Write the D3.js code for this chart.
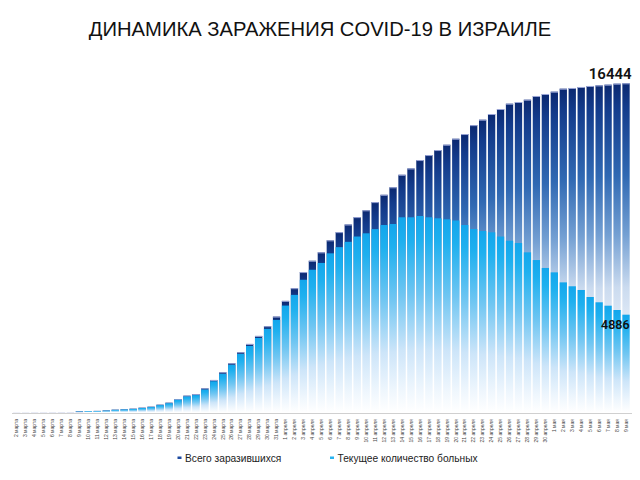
<!DOCTYPE html>
<html>
<head>
<meta charset="utf-8">
<script src="https://cdn.jsdelivr.net/npm/d3@7/dist/d3.min.js"></script>
<style>
  html, body { margin: 0; padding: 0; background: #ffffff; }
  svg { display: block; font-family: "Liberation Sans", Arial, Helvetica, sans-serif; }
</style>
</head>
<body>
<svg id="chart" width="640" height="480"></svg>
<script>
const title = "ДИНАМИКА ЗАРАЖЕНИЯ COVID-19 В ИЗРАИЛЕ";
const seriesNames = ["Всего заразившихся", "Текущее количество больных"];

const categories = [
  "2 марта","3 марта","4 марта","5 марта","6 марта","7 марта","8 марта","9 марта","10 марта","11 марта",
  "12 марта","13 марта","14 марта","15 марта","16 марта","17 марта","18 марта","19 марта","20 марта","21 марта",
  "22 марта","23 марта","24 марта","25 марта","26 марта","27 марта","28 марта","29 марта","30 марта","31 марта",
  "1 апреля","2 апреля","3 апреля","4 апреля","5 апреля","6 апреля","7 апреля","8 апреля","9 апреля","10 апреля",
  "11 апреля","12 апреля","13 апреля","14 апреля","15 апреля","16 апреля","17 апреля","18 апреля","19 апреля","20 апреля",
  "21 апреля","22 апреля","23 апреля","24 апреля","25 апреля","26 апреля","27 апреля","28 апреля","29 апреля","30 апреля",
  "1 мая","2 мая","3 мая","4 мая","5 мая","6 мая","7 мая","8 мая","9 мая"
];

const totalCases = [
  10, 12, 15, 15, 17, 21, 25, 50, 75, 80,
  100, 140, 160, 190, 240, 290, 390, 490, 670, 840,
  920, 1210, 1625, 2010, 2460, 3010, 3425, 3825, 4310, 4790,
  5575, 6210, 7015, 7580, 8000, 8600, 9010, 9390, 9760, 10100,
  10510, 10875, 11250, 11875, 12190, 12610, 12860, 13110, 13375, 13675,
  13910, 14355, 14625, 14910, 15160, 15425, 15510, 15625, 15810, 15910,
  16025, 16175, 16210, 16260, 16310, 16340, 16375, 16425, 16444
];

const activeCases = [
  10, 12, 14, 14, 15, 19, 22, 46, 70, 75,
  94, 132, 150, 178, 225, 272, 368, 462, 635, 800,
  870, 1145, 1560, 1930, 2380, 2925, 3325, 3725, 4180, 4625,
  5340, 5875, 6630, 7130, 7470, 7950, 8260, 8525, 8790, 8950,
  9160, 9365, 9415, 9750, 9750, 9815, 9750, 9700, 9650, 9590,
  9365, 9165, 9065, 9000, 8790, 8580, 8465, 8000, 7615, 7220,
  7000, 6500, 6305, 6120, 5770, 5505, 5335, 5120, 4886
];

const yMax = 16444;

const svg = d3.select("#chart");
const defs = svg.append("defs");

const gTotal = defs.append("linearGradient").attr("id", "gTotal")
  .attr("x1", 0).attr("y1", 0).attr("x2", 0).attr("y2", 1);
[[0, "#0b2870"], [0.07, "#133b8b"], [0.28, "#3069b3"], [0.46, "#74a0d3"], [0.62, "#cbdbef"], [0.8, "#f0f5fb"], [1, "#ffffff"]]
  .forEach(([o, c]) => gTotal.append("stop").attr("offset", o).attr("stop-color", c));

const gActive = defs.append("linearGradient").attr("id", "gActive")
  .attr("x1", 0).attr("y1", 0).attr("x2", 0).attr("y2", 1);
[[0, "#12a6ec"], [0.12, "#1eb0ef"], [0.4, "#70c6f2"], [0.68, "#cde5f9"], [0.88, "#eef6fd"], [1, "#ffffff"]]
  .forEach(([o, c]) => gActive.append("stop").attr("offset", o).attr("stop-color", c));

const x = d3.scaleBand().domain(categories).range([12.2, 630.5])
  .paddingInner(0.185).paddingOuter(0.0925);
const y = d3.scaleLinear().domain([0, yMax]).range([412.5, 83.3]);

// title
svg.append("text").attr("x", 320).attr("y", 35.5).attr("text-anchor", "middle")
  .attr("font-size", 20.2).attr("fill", "#111").text(title);

// total bars
const gT = svg.append("g");
gT.selectAll("rect.total").data(totalCases).join("rect")
  .attr("class", "total")
  .attr("x", (d, i) => x(categories[i]))
  .attr("y", d => y(d))
  .attr("width", x.bandwidth())
  .attr("height", d => y(0) - y(d))
  .attr("fill", "url(#gTotal)");
gT.selectAll("rect.cap").data(totalCases).join("rect")
  .attr("class", "cap")
  .attr("x", (d, i) => x(categories[i]))
  .attr("y", d => y(d))
  .attr("width", x.bandwidth())
  .attr("height", d => Math.min(1, y(0) - y(d)))
  .attr("fill", "#9aa5d6");

// active bars
svg.append("g").selectAll("rect").data(activeCases).join("rect")
  .attr("x", (d, i) => x(categories[i]))
  .attr("y", d => y(d))
  .attr("width", x.bandwidth())
  .attr("height", d => y(0) - y(d))
  .attr("fill", "url(#gActive)");

// axis
const axis = svg.append("g").attr("transform", "translate(0,413)")
  .call(d3.axisBottom(x).tickSize(0).tickSizeOuter(0));
axis.select(".domain").attr("stroke", "#d0d0d0").attr("d", "M12,0.5H632");
axis.selectAll("text")
  .attr("transform", "rotate(-90)")
  .attr("text-anchor", "end")
  .attr("x", -6).attr("y", 0).attr("dy", "0.35em")
  .attr("font-size", 5).attr("fill", "#444")
  .attr("font-family", "'Liberation Sans', Arial, sans-serif");

// value labels
const last = categories.length - 1;
svg.append("text")
  .attr("x", x(categories[last]) + x.bandwidth() + 2)
  .attr("y", y(totalCases[last]) - 4)
  .attr("text-anchor", "end").attr("font-size", 15).attr("font-weight", 600)
  .attr("font-family", "Roboto, 'Liberation Sans', sans-serif")
  .attr("fill", "#111").text(totalCases[last]);
svg.append("text")
  .attr("x", x(categories[last]) + x.bandwidth())
  .attr("y", y(activeCases[last]) + 14.5)
  .attr("text-anchor", "end").attr("font-size", 12.5).attr("font-weight", 600)
  .attr("font-family", "Roboto, 'Liberation Sans', sans-serif")
  .attr("fill", "#111").text(activeCases[last]);

// legend
const legendItems = [
  { name: seriesNames[0], color: "#1d4aa0", mx: 177.5 },
  { name: seriesNames[1], color: "#2ab4f0", mx: 330 }
];
const lg = svg.append("g");
legendItems.forEach(it => {
  lg.append("rect").attr("x", it.mx).attr("y", 456.5).attr("width", 4).attr("height", 2.5).attr("fill", it.color);
  lg.append("text").attr("x", it.mx + 7.5).attr("y", 461.5).attr("font-size", 10.2)
    .attr("fill", "#222").text(it.name);
});
</script>
</body>
</html>
